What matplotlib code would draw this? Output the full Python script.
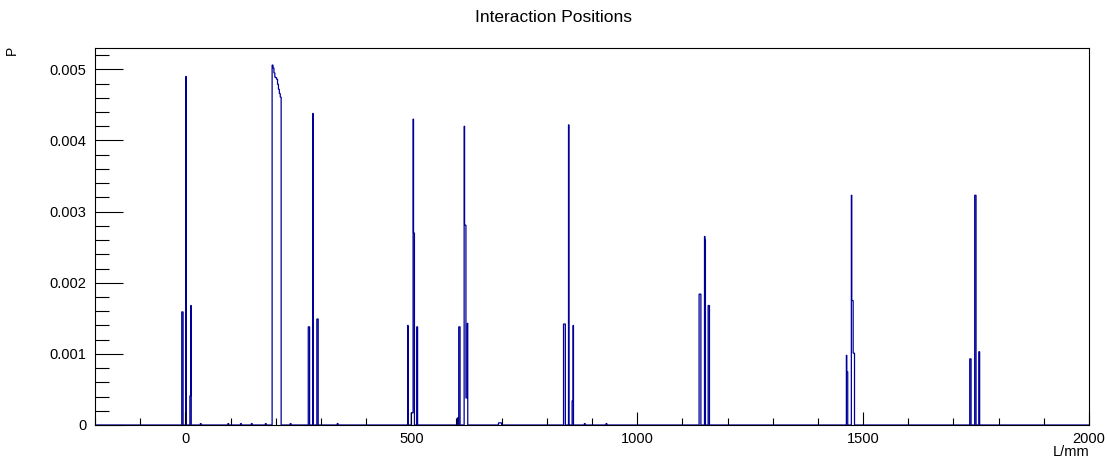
import numpy as np
import matplotlib
matplotlib.use("Agg")
import matplotlib.pyplot as plt
from matplotlib.ticker import MultipleLocator

plt.rcParams['font.family'] = ['Liberation Sans', 'DejaVu Sans']

# Histogram range and binning (mm)
x_lo, x_hi = -200, 2000
bin_w = 1

# Non-empty bin runs: start (mm), end (mm), probability
seg_start = [-8, 1, 10, 12, 33, 94, 122, 146, 177,
             192, 194, 196, 198, 200, 202, 204, 206, 208, 210,
             232, 272, 282, 291, 336,
             492, 500, 504, 505, 512,
             602, 605, 617, 618, 621, 624, 693,
             837, 848, 856, 858, 883, 931,
             1137, 1149, 1150, 1157,
             1463, 1464, 1474, 1475, 1478,
             1736, 1747, 1756]
seg_end = [-5, 2, 12, 13, 35, 96, 124, 148, 179,
           194, 196, 198, 200, 202, 204, 206, 208, 210, 212,
           234, 275, 283, 294, 338,
           493, 504, 505, 507, 514,
           604, 608, 618, 621, 624, 625, 700,
           841, 849, 858, 859, 885, 933,
           1141, 1150, 1151, 1160,
           1464, 1466, 1475, 1478, 1481,
           1739, 1750, 1758]
seg_prob = [0.00159, 0.0049, 0.00041, 0.00168, 2e-5, 2e-5, 2e-5, 2e-5, 2e-5,
            0.00506, 0.00502, 0.00495, 0.00489, 0.00488, 0.00486, 0.00479, 0.00472, 0.00466, 0.00461,
            2e-5, 0.00138, 0.00438, 0.00149, 2e-5,
            0.0014, 0.00017, 0.0043, 0.0027, 0.00138,
            0.0001, 0.00138, 0.0042, 0.00281, 0.00038, 0.00143, 3e-5,
            0.00142, 0.00422, 0.00034, 0.0014, 2e-5, 2e-5,
            0.00184, 0.00265, 0.0026, 0.00168,
            0.00098, 0.00075, 0.00323, 0.00175, 0.00101,
            0.00093, 0.00323, 0.00103]

# Fill the histogram
edges = np.arange(x_lo, x_hi + bin_w, bin_w)
counts = np.zeros(len(edges) - 1)
for s, e, p in zip(seg_start, seg_end, seg_prob):
    counts[(edges[:-1] >= s) & (edges[:-1] < e)] = p

fig = plt.figure(figsize=(11.07, 4.59), dpi=100)
ax = fig.add_axes([95 / 1107, 34 / 459, 994 / 1107, 377 / 459])

ax.stairs(counts, edges, color='#000099', linewidth=0.9, zorder=1)

ax.set_xlim(x_lo, x_hi)
ax.set_ylim(0, 0.0053)

# ROOT-like axes: ticks inside, only left/bottom
ax.xaxis.set_major_locator(MultipleLocator(500))
ax.xaxis.set_minor_locator(MultipleLocator(100))
ax.yaxis.set_major_locator(MultipleLocator(0.001))
ax.yaxis.set_minor_locator(MultipleLocator(0.0002))
ax.tick_params(axis='x', which='major', direction='in', length=9.5, width=0.8,
               labelsize=10.5, pad=5, top=False)
ax.tick_params(axis='x', which='minor', direction='in', length=5, width=0.8, top=False)
ax.tick_params(axis='y', which='major', direction='in', length=20, width=0.8,
               labelsize=10.5, pad=6, right=False)
ax.tick_params(axis='y', which='minor', direction='in', length=10, width=0.8, right=False)
ax.yaxis.set_major_formatter(matplotlib.ticker.FuncFormatter(
    lambda v, pos: '0' if v == 0 else f'{v:.3f}'))
for sp in ax.spines.values():
    sp.set_linewidth(0.8)
    sp.set_zorder(3)

fig.text(0.5, 1 - 18 / 459, 'Interaction Positions', ha='center', va='center', fontsize=12.5)
fig.text(12 / 1107, 1 - 50 / 459, 'P', ha='center', va='center', rotation=90, fontsize=10)
fig.text(1089 / 1107, 1 - 452 / 459, 'L/mm', ha='right', va='center', fontsize=10.5)

fig.savefig('out.png', dpi=100)
